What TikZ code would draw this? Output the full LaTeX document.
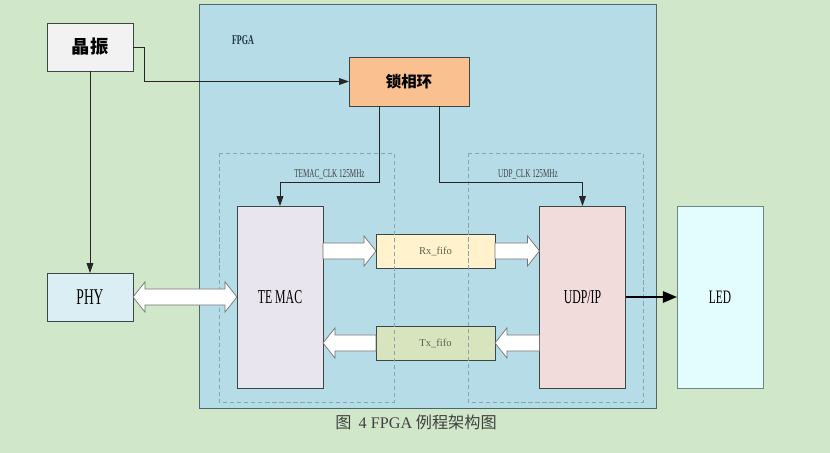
\documentclass[tikz,border=0pt]{standalone}
\usepackage{fontspec}
\setmainfont{Liberation Serif}
\newfontfamily\narrowfont[FakeStretch=0.6]{Liberation Serif}
\newfontfamily\cjkfont{Noto Sans CJK SC}
\usetikzlibrary{arrows.meta,calc,positioning}
\definecolor{bgGreen}{HTML}{D1E7C9}
\definecolor{fpgaBlue}{HTML}{B6DCE7}
\definecolor{fpgaLine}{HTML}{4D6666}
\definecolor{fpgaText}{HTML}{1F3444}
\definecolor{boxLine}{HTML}{3C4646}
\definecolor{oscGray}{HTML}{F2F2F2}
\definecolor{pllOrange}{HTML}{FAC090}
\definecolor{phyBlue}{HTML}{DAEEF3}
\definecolor{macLav}{HTML}{E8E5EF}
\definecolor{udpPink}{HTML}{F2DCDB}
\definecolor{ledCyan}{HTML}{E3FCFD}
\definecolor{ledLine}{HTML}{6A8A7E}
\definecolor{rxYellow}{HTML}{FFF2CC}
\definecolor{txGreen}{HTML}{D7E4BD}
\definecolor{dashLine}{HTML}{8AA3B3}
\definecolor{fifoText}{HTML}{5F5F4F}
% white block arrow, one head
\newcommand\blockArrow[2]{%
 \filldraw[fatarrow] let \p1=(#1), \p2=(#2), \n1={sign(\x2-\x1)} in
  (\x1,\y1+5.7pt) -- (\x2-\n1*8.5pt,\y1+5.7pt) -- (\x2-\n1*8.5pt,\y1+10.7pt) -- (\x2,\y1)
  -- (\x2-\n1*8.5pt,\y1-10.7pt) -- (\x2-\n1*8.5pt,\y1-5.7pt) -- (\x1,\y1-5.7pt) -- cycle;}
% white block arrow, two heads
\newcommand\dblBlockArrow[2]{%
 \filldraw[fatarrow] let \p1=(#1), \p2=(#2) in
  (\x1,\y1) -- (\x1+8.5pt,\y1+10.7pt) -- (\x1+8.5pt,\y1+5.7pt) -- (\x2-8.5pt,\y1+5.7pt)
  -- (\x2-8.5pt,\y1+10.7pt) -- (\x2,\y1) -- (\x2-8.5pt,\y1-10.7pt) -- (\x2-8.5pt,\y1-5.7pt)
  -- (\x1+8.5pt,\y1-5.7pt) -- (\x1+8.5pt,\y1-10.7pt) -- cycle;}

\begin{document}
\begin{tikzpicture}[x=0.025cm,y=-0.025cm,
  box/.style={draw=boxLine,line width=0.6pt,inner sep=0pt,outer sep=0pt,
    font=\narrowfont\fontsize{14}{16}\selectfont},
  tallbox/.style={box,minimum width=2.15cm,minimum height=4.55cm},
  fifobox/.style={box,minimum width=2.975cm,minimum height=0.85cm,text=fifoText,
    font=\fontsize{7.5}{9}\selectfont},
  clk/.style={draw=black!85,line width=0.6pt,-{Triangle[length=7pt,width=4.8pt]}},
  clklbl/.style={font=\narrowfont\fontsize{8.5}{10}\selectfont,text=black!75,inner sep=1.5pt},
  fatarrow/.style={fill=white,draw=black!55,line width=0.5pt},
  dashbox/.style={draw=dashLine,line width=0.5pt,densely dashed}]
 % background and FPGA
 \fill[bgGreen] (0,0) rectangle (830,453);
 \node[draw=fpgaLine,fill=fpgaBlue,line width=0.7pt,inner sep=0pt,minimum width=11.4cm,minimum height=10.075cm] (fpga) at (428,206.5) {};
 \node[font=\narrowfont\bfseries\fontsize{9.5}{11}\selectfont,text=fpgaText] (fpgalbl) at (243,40) {FPGA};

 \node[box,fill=oscGray,minimum width=2.15cm,minimum height=1.2cm,font=\cjkfont\bfseries\fontsize{13}{15}\selectfont] (osc) at (90,47) {晶振};
 \node[box,fill=pllOrange,minimum width=3.0cm,minimum height=1.225cm,font=\cjkfont\bfseries\fontsize{11}{13}\selectfont] (pll) at (409,81.5) {锁相环};
 \node[box,fill=phyBlue,minimum width=2.15cm,minimum height=1.2cm,font=\narrowfont\fontsize{16}{18}\selectfont] (phy) at (90,297) {PHY};
 \node[tallbox,fill=macLav] (temac) at (280,297) {TE MAC};
 \node[tallbox,fill=udpPink] (udp) at (582.5,297) {UDP/IP};
 \node[tallbox,draw=ledLine,fill=ledCyan,font=\narrowfont\fontsize{13.5}{15}\selectfont] (led) at (720,297) {LED};
 \node[fifobox,fill=rxYellow] (rx) at (435.5,251) {Rx\_fifo};
 \node[fifobox,fill=txGreen] (tx) at (435.5,343) {Tx\_fifo};

 \draw[dashbox] (219,153) rectangle (394,402);
 \draw[dashbox] (468,153) rectangle (643,402);

 % clocks
 \draw[clk] (osc.east) -- ++(11,0) |- (pll.west);
 \draw[clk] (osc) -- (phy);
 \draw[clk] ([xshift=-0.75cm]pll.south) -- ++(0,76) -| (temac.north)
   node[clklbl,pos=0.25,above] {TEMAC\_CLK 125MHz};
 \draw[clk] ([xshift=0.75cm]pll.south) -- ++(0,76) -| (udp.north)
   node[clklbl,pos=0.31,above] {UDP\_CLK 125MHz};

 % data
 \dblBlockArrow{phy.east}{temac.west}
 \blockArrow{temac.east |- rx.west}{rx.west}
 \blockArrow{rx.east}{udp.west |- rx.east}
 \blockArrow{udp.west |- tx.east}{tx.east}
 \blockArrow{tx.west}{temac.east |- tx.west}
 \draw[line width=1.5pt,-{Triangle[length=10pt,width=8pt]}] (udp) -- (led);

 \node[font=\cjkfont\fontsize{11.5}{13}\selectfont,text=black!75] (caption) at (416,422)
   {图\ \ {\rmfamily 4 FPGA} 例程架构图};
\end{tikzpicture}
\end{document}
